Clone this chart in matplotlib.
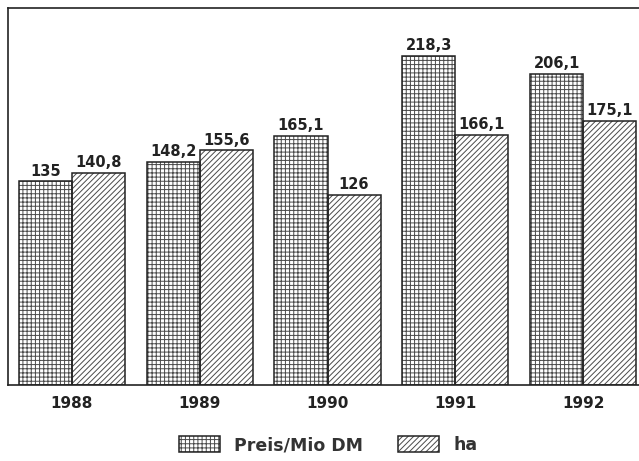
import numpy as np
import matplotlib
matplotlib.use("Agg")
import matplotlib.pyplot as plt

years = ["1988", "1989", "1990", "1991", "1992"]
preis = [135, 148.2, 165.1, 218.3, 206.1]
ha = [140.8, 155.6, 126, 166.1, 175.1]
series_labels = ["Preis/Mio DM", "ha"]

plt.rcParams["font.family"] = "DejaVu Sans"
plt.rcParams["hatch.linewidth"] = 0.7

ink = "#222222"
hatch_ink = "#4a4a4a"

fig = plt.figure(figsize=(6.39, 4.61), dpi=100)
ax = fig.add_axes([8 / 639, 76 / 461, 1.0, 377 / 461])

x = np.arange(len(years))
w = 0.415

# hatched fill first, outline drawn on top in a darker ink
h1 = ax.bar(x - w / 2, preis, width=w, facecolor="white", edgecolor=hatch_ink,
            linewidth=0, hatch="++++")
h2 = ax.bar(x + w / 2, ha, width=w, facecolor="white", edgecolor=hatch_ink,
            linewidth=0, hatch="//////")
o1 = ax.bar(x - w / 2, preis, width=w, fill=False, edgecolor=ink, linewidth=1.1)
o2 = ax.bar(x + w / 2, ha, width=w, fill=False, edgecolor=ink, linewidth=1.1)

def fmt(v):
    return f"{v:g}".replace(".", ",")

for bars, vals in ((o1, preis), (o2, ha)):
    ax.bar_label(bars, labels=[fmt(v) for v in vals], padding=2,
                 fontsize=10.5, fontweight="bold", color=ink)

ax.set_xlim(-0.5, 4.5)
ax.set_ylim(0, 250)
ax.set_xticks(x)
ax.set_xticklabels(years, fontsize=11, fontweight="bold", color=ink)
ax.tick_params(axis="x", length=0, pad=8)
ax.set_yticks([])

for side in ("top", "left", "bottom"):
    ax.spines[side].set_color(ink)
    ax.spines[side].set_linewidth(1.2)
ax.spines["right"].set_visible(False)

leg = fig.legend(handles=[(h1[0], o1[0]), (h2[0], o2[0])], labels=series_labels,
                 loc="center", bbox_to_anchor=(328 / 639, 1 - 445 / 461), ncol=2,
                 frameon=False, handlelength=2.4, handleheight=1.0,
                 handletextpad=0.8, columnspacing=2.0,
                 prop={"size": 12.5, "weight": "bold"})
for t in leg.get_texts():
    t.set_color("#333333")

fig.savefig("out.png", dpi=100)
